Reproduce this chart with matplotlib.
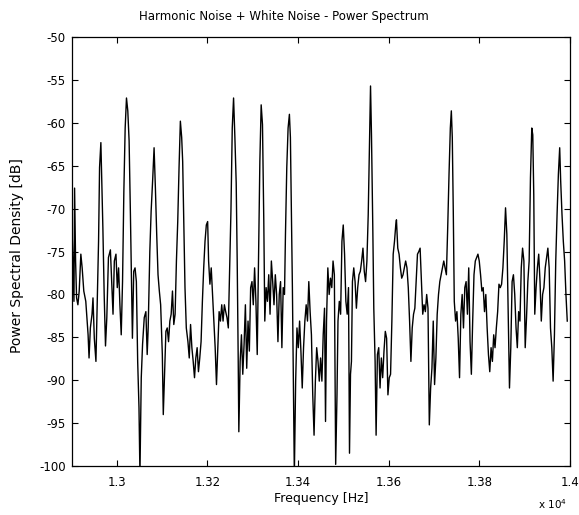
import matplotlib
matplotlib.use("Agg")
import matplotlib.pyplot as plt

# power spectrum (frequency in Hz, level in dB)
freq_hz = [
    12901.0, 12905.4, 12906.8, 12909.0, 12911.2, 12914.1, 12917.0, 12920.6, 12923.5, 12927.1,
    12931.5, 12936.6, 12938.7, 12941.6, 12945.3, 12947.4, 12950.3, 12953.9, 12956.1, 12959.7,
    12961.9, 12964.8, 12967.0, 12969.2, 12972.1, 12975.0, 12977.9, 12981.5, 12985.8, 12988.7,
    12991.6, 12994.5, 12998.1, 13001.0, 13003.9, 13006.8, 13009.7, 13012.6, 13015.5, 13018.4,
    13021.3, 13024.2, 13027.1, 13030.0, 13032.2, 13034.4, 13037.3, 13040.2, 13043.1, 13046.0,
    13048.9, 13051.0, 13053.9, 13056.8, 13060.5, 13064.1, 13067.0, 13069.2, 13072.8, 13075.7,
    13079.3, 13082.2, 13085.1,
    13088.0, 13090.9, 13093.8, 13096.7, 13100.4, 13102.5, 13105.4, 13108.3, 13111.2, 13114.1,
    13117.0, 13119.9, 13122.8, 13125.7, 13128.6, 13131.5, 13134.4, 13137.3, 13140.2, 13143.1,
    13145.3, 13147.5, 13150.4, 13153.3, 13156.9, 13159.8, 13162.7, 13165.6, 13168.5, 13171.4,
    13174.3, 13177.2, 13180.1, 13183.0, 13185.9, 13188.8, 13191.7, 13194.6, 13197.5, 13200.4,
    13202.5, 13205.4, 13208.3, 13211.2, 13214.1, 13217.0, 13219.9, 13222.8, 13225.7, 13228.6,
    13231.5, 13234.4, 13237.3, 13240.2, 13243.1, 13246.0, 13248.9, 13251.8, 13254.7, 13257.6,
    13260.5,
    13263.4, 13265.6, 13267.8, 13269.2, 13272.1, 13275.0, 13277.9, 13280.8, 13283.7, 13286.6,
    13289.5, 13292.4, 13295.3, 13298.2, 13301.1, 13304.0, 13306.9, 13309.8, 13312.7, 13315.6,
    13318.5, 13321.4, 13324.3, 13326.5, 13329.4, 13332.3, 13335.2, 13338.1, 13341.0, 13343.9,
    13346.8, 13349.7, 13352.6, 13355.5, 13358.4, 13361.3, 13364.2, 13367.1, 13370.0, 13372.1,
    13375.0, 13377.9, 13380.8, 13383.0, 13385.2, 13387.4, 13389.5, 13391.7, 13394.6, 13397.5,
    13400.4, 13403.3, 13406.2, 13409.1, 13412.0, 13414.9, 13417.8, 13420.7, 13423.6, 13426.5,
    13429.4, 13432.3, 13435.2, 13438.1, 13441.0, 13443.9,
    13446.7, 13449.6, 13452.5, 13455.4, 13458.3, 13460.5, 13462.7, 13465.6, 13468.5, 13471.4,
    13474.3, 13477.1, 13480.0, 13482.9, 13485.8, 13488.0, 13490.9, 13493.8, 13496.7, 13499.6,
    13502.5, 13505.4, 13508.3, 13511.2, 13513.4, 13515.6, 13517.7, 13519.9, 13522.8, 13525.7,
    13528.6, 13531.5, 13534.4, 13537.3, 13540.2, 13543.1, 13546.0, 13548.9, 13551.8, 13554.7,
    13557.6, 13559.8, 13561.9, 13564.8, 13567.0, 13569.9, 13572.1, 13575.0, 13577.9, 13580.8,
    13583.7, 13586.6, 13589.5, 13592.4, 13595.3, 13598.2, 13601.1, 13604.0, 13606.9, 13609.8,
    13612.7, 13615.5,
    13617.0, 13619.9, 13622.8, 13625.7, 13628.6, 13631.5, 13634.4, 13637.3, 13640.2, 13643.1,
    13646.0, 13648.9, 13651.8, 13654.7, 13657.6, 13660.5, 13663.4, 13666.3, 13669.2, 13672.1,
    13675.0, 13677.9, 13680.8, 13683.7, 13686.6, 13689.5, 13692.4, 13695.3, 13698.2, 13701.1,
    13704.0, 13706.9, 13709.8, 13712.7, 13715.6, 13718.5, 13721.4, 13724.3, 13727.2, 13730.1,
    13733.0, 13735.9, 13738.1, 13740.2, 13742.4, 13744.6, 13747.5, 13750.4, 13753.3, 13756.2,
    13759.1, 13762.0, 13764.9, 13767.8, 13770.7, 13773.6, 13776.5, 13779.4, 13782.3, 13785.2,
    13788.1, 13791.0, 13793.9,
    13796.8, 13799.7, 13802.6, 13805.5, 13808.4, 13811.3, 13814.2, 13817.1, 13820.0, 13822.9,
    13825.8, 13828.7, 13831.6, 13834.5, 13837.4, 13840.3, 13843.2, 13846.1, 13849.0, 13851.9,
    13854.8, 13857.7, 13860.6, 13863.5, 13866.4, 13869.3, 13872.2, 13875.1, 13878.0, 13880.9,
    13883.7, 13886.6, 13889.5, 13892.4, 13895.3, 13898.2, 13901.1, 13904.0, 13906.9, 13909.8,
    13912.7, 13915.6, 13917.8, 13920.0, 13922.2, 13925.1, 13928.0, 13930.9, 13933.8, 13936.6,
    13939.5, 13942.4, 13945.3, 13948.2, 13951.1, 13954.0, 13956.9, 13959.8, 13962.7, 13965.6,
    13968.5, 13971.4, 13974.3, 13977.2, 13979.4, 13982.3, 13985.2, 13988.1, 13991.0, 13993.9,
]

psd_db = [
    -72.0, -80.8, -67.6, -76.1, -80.4, -81.2, -79.6, -75.3, -76.9, -79.6,
    -80.8, -84.7, -87.4, -83.9, -82.3, -80.4, -85.1, -87.8, -82.7, -73.8,
    -65.2, -62.3, -67.2, -72.2, -80.0, -86.0, -82.7, -75.7, -74.8, -78.5,
    -82.3, -76.1, -75.3, -79.2, -76.9, -81.2, -84.7, -78.5, -68.0, -60.6,
    -57.1, -58.6, -62.1, -70.7, -78.1, -85.1, -77.3, -76.9, -78.5, -87.8,
    -93.2, -101.0, -89.7, -85.8, -82.7, -82.0, -87.0, -83.9, -75.0, -70.3,
    -66.4, -62.9, -67.6,
    -73.0, -77.7, -79.6, -81.2, -87.0, -94.0, -89.0, -84.3, -83.9, -85.5,
    -83.1, -82.3, -79.6, -83.5, -82.3, -76.1, -71.5, -65.2, -59.8, -61.7,
    -64.5, -70.7, -79.2, -83.9, -85.5, -87.4, -83.5, -86.2, -87.8, -89.7,
    -87.4, -86.2, -89.0, -87.4, -85.5, -80.8, -76.9, -73.8, -71.9, -71.5,
    -76.1, -78.8, -76.9, -80.0, -83.1, -86.2, -90.5, -86.2, -82.0, -83.1,
    -81.2, -83.1, -81.2, -82.0, -82.7, -83.9, -77.3, -70.3, -60.6, -57.1,
    -61.7,
    -67.0, -76.1, -87.4, -96.0, -87.8, -84.7, -89.3, -85.8, -81.2, -88.6,
    -83.1, -86.6, -79.2, -78.5, -81.2, -76.9, -80.8, -87.0, -76.1, -64.5,
    -57.9, -60.2, -71.5, -83.1, -79.2, -80.8, -77.7, -82.3, -76.1, -78.5,
    -81.2, -77.7, -80.0, -85.5, -80.0, -78.5, -86.2, -79.2, -80.0, -73.0,
    -65.2, -60.6, -59.0, -61.7, -70.7, -79.2, -89.3, -101.0, -90.1, -83.9,
    -86.2, -83.1, -86.6, -90.9, -86.2, -83.1, -81.2, -83.1, -78.5, -82.0,
    -84.7, -91.7, -96.4, -90.1, -86.2, -87.8,
    -90.1, -87.4, -90.1, -84.7, -81.6, -94.8, -83.1, -76.9, -80.0, -78.1,
    -79.2, -76.1, -77.7, -99.8, -91.7, -83.1, -80.8, -82.3, -73.8, -71.9,
    -75.3, -80.8, -82.3, -79.2, -98.5, -89.3, -87.8, -78.5, -76.9, -78.5,
    -81.6, -79.2, -77.7, -77.3, -76.1, -74.6, -77.3, -78.5, -76.1, -70.7,
    -62.5, -55.7, -61.4, -72.2, -81.6, -87.8, -96.4, -87.0, -86.2, -90.9,
    -87.4, -89.7, -86.6, -84.3, -85.1, -91.7, -89.7, -89.3, -83.1, -75.3,
    -73.8, -71.9,
    -71.3, -74.6, -75.3, -76.9, -78.1, -77.7, -76.9, -76.1, -76.9, -79.2,
    -83.1, -87.8, -83.9, -82.3, -81.6, -78.5, -75.3, -75.0, -74.6, -78.5,
    -82.3, -81.2, -82.0, -80.0, -81.6, -95.2, -90.9, -88.6, -83.1, -90.5,
    -87.4, -82.3, -80.0, -78.5, -77.7, -76.9, -76.1, -76.9, -77.7, -72.2,
    -66.0, -60.6, -58.6, -61.7, -70.3, -80.8, -83.1, -82.0, -85.1, -89.7,
    -82.3, -80.0, -83.9, -79.2, -78.5, -82.3, -76.9, -85.5, -89.3, -83.1,
    -77.7, -76.1, -75.7,
    -75.3, -76.1, -77.7, -79.6, -79.2, -82.0, -80.0, -83.9, -87.0, -89.0,
    -86.2, -87.8, -84.7, -86.2, -83.9, -82.0, -78.8, -79.2, -78.8, -76.9,
    -73.8, -69.9, -73.0, -82.3, -90.9, -86.2, -78.5, -77.7, -80.0, -83.9,
    -86.2, -82.0, -83.1, -76.9, -74.6, -76.1, -86.2, -82.7, -78.5, -76.1,
    -66.4, -60.6, -61.4, -68.4, -82.3, -79.2, -76.9, -75.3, -78.5, -83.1,
    -80.0, -79.2, -76.9, -75.7, -74.6, -76.9, -83.9, -86.2, -90.1, -84.7,
    -76.1, -70.7, -66.0, -62.9, -66.8, -70.7, -73.8, -76.1, -80.0, -83.1,
]

x_ticks = [13000, 13200, 13400, 13600, 13800, 14000]
x_tick_labels = ["1.3", "1.32", "1.34", "1.36", "1.38", "1.4"]
y_ticks = [-100, -95, -90, -85, -80, -75, -70, -65, -60, -55, -50]

fig = plt.figure(figsize=(5.79, 5.15), dpi=100)
ax = fig.add_axes([0.1235, 0.095, 0.861, 0.833])

ax.plot(freq_hz, psd_db, color="black", linewidth=1.0)

ax.set_xlim(12900, 14000)
ax.set_ylim(-100, -50)
ax.set_xticks(x_ticks)
ax.set_xticklabels(x_tick_labels)
ax.set_yticks(y_ticks)
ax.set_yticklabels([str(v) for v in y_ticks])

# matlab style box: ticks inside on every side
ax.tick_params(direction="in", top=True, right=True, length=4, width=0.8,
               labelsize=8.5)
ax.tick_params(axis="x", pad=7)
ax.tick_params(axis="y", pad=4)
for s in ax.spines.values():
    s.set_linewidth(0.9)

ax.set_title("Harmonic Noise + White Noise - Power Spectrum", fontsize=8.5,
             x=0.425, pad=12)
ax.set_xlabel("Frequency [Hz]", fontsize=9, labelpad=2)
ax.set_ylabel("Power Spectral Density [dB]", fontsize=10)
ax.yaxis.set_label_coords(-0.095, 0.49)

fig.text(0.93, 0.012, r"x 10$^4$", fontsize=7.5)

fig.savefig("out.png", dpi=100)
